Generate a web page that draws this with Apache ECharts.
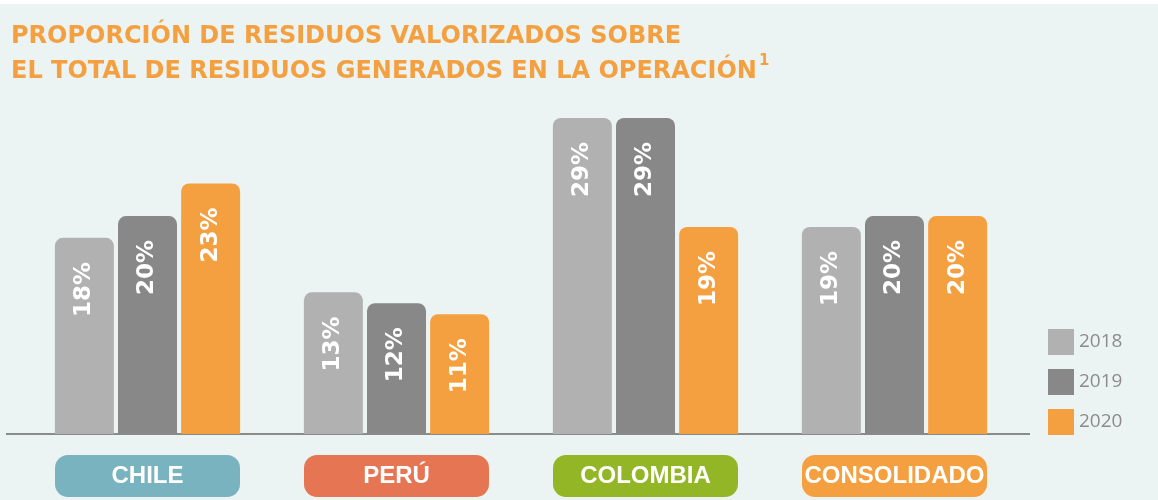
<!DOCTYPE html>
<html>
<head>
<meta charset="utf-8">
<script src="https://cdn.jsdelivr.net/npm/echarts@6/dist/echarts.min.js"></script>
<style>
  html, body { margin: 0; padding: 0; background: #fff; }
  #chart { width: 1158px; height: 500px; }
</style>
</head>
<body>
<div id="chart"></div>
<script>
// datos
const categories = ['CHILE', 'PERÚ', 'COLOMBIA', 'CONSOLIDADO'];
const years = ['2018', '2019', '2020'];
const values2018 = [18, 13, 29, 19];
const values2019 = [20, 12, 29, 20];
const values2020 = [23, 11, 19, 20];
const yearColors = ['#b1b1b1', '#888888', '#f5a040'];
const pillColors = ['#79b3bf', '#e57553', '#93b627', '#f5a040'];

const seriesValues = [values2018, values2019, values2020];

// estilos de las etiquetas del eje (una por país)
const rich = {};
pillColors.forEach((c, i) => {
  rich['c' + i] = {
    backgroundColor: c,
    color: '#ffffff',
    width: 185,
    height: 42,
    lineHeight: 42,
    borderRadius: 13,
    align: 'center',
    fontFamily: 'Liberation Sans',
    fontWeight: 'bold',
    fontSize: 24
  };
});

const myChart = echarts.init(document.getElementById('chart'));
const option = {
  backgroundColor: '#ebf4f2',
  animation: false,
  title: {
    left: 6,
    top: 14,
    text: '{t|PROPORCIÓN DE RESIDUOS VALORIZADOS SOBRE}\n{t|EL TOTAL DE RESIDUOS GENERADOS EN LA OPERACIÓN}{s|1}',
    textStyle: {
      rich: {
        t: {
          color: '#f5a040',
          fontFamily: 'DejaVu Sans',
          fontWeight: 'bold',
          fontSize: 24,
          lineHeight: 35
        },
        s: {
          color: '#f5a040',
          fontFamily: 'DejaVu Sans',
          fontWeight: 'bold',
          fontSize: 15,
          verticalAlign: 'top',
          lineHeight: 30,
          padding: [0, 0, 0, 2]
        }
      }
    }
  },
  legend: {
    orient: 'vertical',
    left: 1043,
    top: 324,
    icon: 'rect',
    itemWidth: 26,
    itemHeight: 26,
    itemGap: 14,
    data: years,
    textStyle: {
      color: '#8c8c8c',
      fontFamily: 'Open Sans',
      fontSize: 19
    }
  },
  grid: {
    left: 23,
    right: 139,
    top: 118,
    bottom: 66
  },
  xAxis: {
    type: 'category',
    data: categories,
    axisLine: { show: false },
    axisTick: { show: false },
    axisLabel: {
      margin: 21,
      interval: 0,
      formatter: (v, i) => '{c' + i + '|' + v + '}',
      rich: rich
    }
  },
  yAxis: {
    type: 'value',
    min: 0,
    max: 29,
    show: false
  },
  graphic: [
    {
      type: 'rect',
      shape: { x: 0, y: 0, width: 1158, height: 4 },
      style: { fill: '#ffffff' }
    },
    {
      type: 'line',
      shape: { x1: 6, y1: 434, x2: 1030, y2: 434 },
      style: { stroke: '#8a8a8a', lineWidth: 2 }
    }
  ],
  series: years.map((y, i) => ({
    name: y,
    type: 'bar',
    barWidth: 59,
    barGap: '7%',
    data: seriesValues[i],
    itemStyle: {
      color: yearColors[i],
      borderRadius: [8, 8, 0, 0]
    },
    label: {
      show: true,
      position: 'insideTop',
      rotate: 90,
      align: 'right',
      verticalAlign: 'middle',
      distance: 24,
      formatter: '{c}%',
      color: '#ffffff',
      fontFamily: 'DejaVu Sans',
      fontWeight: 'bold',
      fontSize: 23
    }
  }))
};
option && myChart.setOption(option);
</script>
</body>
</html>
